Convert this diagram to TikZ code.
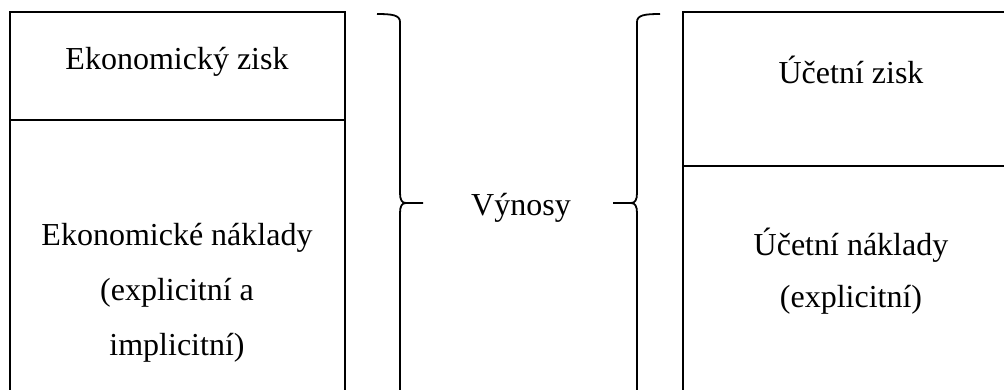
\documentclass[tikz,border=0pt]{standalone}
\usepackage{fontspec}
\setmainfont{Liberation Serif}
\begin{document}
\begin{tikzpicture}[x=1pt,y=-1pt,
  frame/.style={line width=1.8pt,line cap=rect},
  bracepath/.style={line width=1.8pt},
  label/.style={font=\fontsize{32}{52}\selectfont,inner sep=0pt,align=center}]
  % canvas in pixel-like units, y pointing down
  \clip (0,0) rectangle (1004,389);
  \fill[white] (0,0) rectangle (1004,389);

  % left column: economic profit over economic costs
  \draw[frame] (10,400) -- (10,12) -- (345,12) -- (345,400);
  \draw[frame] (10,120) -- (345,120);
  \node[label,anchor=base] (ezisk) at (177,69) {Ekonomický zisk};
  \node[label,font=\fontsize{32}{55}\selectfont] (enakl) at (177,293)
    {Ekonomické náklady\\(explicitní a\\implicitní)};

  % right column: accounting profit over accounting costs
  \draw[frame] (683,400) -- (683,12) -- (1010,12);
  \draw[frame] (683,166) -- (1010,166);
  \node[label,anchor=base] (uzisk) at (851,83) {Účetní zisk};
  \node[label] (unakl) at (851,271) {Účetní náklady\\(explicitní)};

  % revenue in the middle, grouped by two braces
  \node[label,anchor=base] (vynosy) at (521,215) {Výnosy};

  \coordinate (lb-tip) at (423,203);
  \coordinate (rb-tip) at (613,203);

  % left brace (opening to the left, pointing right)
  \draw[bracepath] (377,14) .. controls (392,14) and (400,15) .. (400,22)
     -- (400,193) .. controls (400,200) and (402,203) .. (406,203) -- (lb-tip);
  \draw[bracepath] (406,203) .. controls (402,203) and (400,206) .. (400,213) -- (400,400);

  % right brace (opening to the right, pointing left)
  \draw[bracepath] (660,14) .. controls (645,14) and (637,15) .. (637,22)
     -- (637,193) .. controls (637,200) and (635,203) .. (631,203) -- (rb-tip);
  \draw[bracepath] (631,203) .. controls (635,203) and (637,206) .. (637,213) -- (637,400);
\end{tikzpicture}
\end{document}
